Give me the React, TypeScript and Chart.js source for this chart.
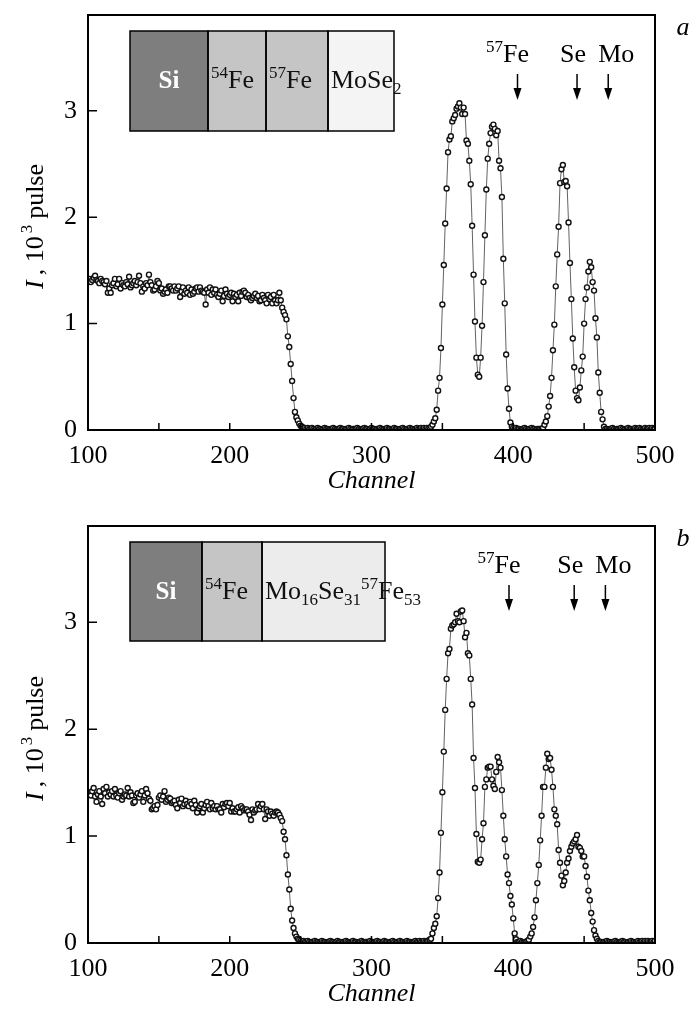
import React, { useEffect, useRef } from 'react';
import { Chart, registerables } from 'chart.js';

Chart.register(...registerables);

const SERIF = '"Liberation Serif", "Times New Roman", serif';

// ---------------- axes ----------------
const X_MIN = 100;
const X_MAX = 500;
const X_TICK_STEP = 50;
const X_LABEL_STEP = 100;
const Y_MIN = 0;
const Y_MAX = 3.9;
const Y_TICK_STEP = 1;

// ---------------- panel a data (one value per channel, 10^3 pulses) ----------------
const aPlateauStart = 100;
const aPlateau = [
  1.40, 1.42, 1.39, 1.41, 1.43, 1.45, 1.41, 1.40, 1.38, 1.42,
  1.40, 1.39, 1.37, 1.40, 1.29, 1.33, 1.29, 1.36, 1.38, 1.42,
  1.35, 1.37, 1.42, 1.33, 1.38, 1.36, 1.35, 1.39, 1.37, 1.44,
  1.34, 1.36, 1.38, 1.40, 1.36, 1.39, 1.45, 1.38, 1.30, 1.35,
  1.33, 1.38, 1.36, 1.46, 1.39, 1.36, 1.31, 1.32, 1.35, 1.40,
  1.38, 1.31, 1.33, 1.28, 1.30, 1.32, 1.29, 1.35, 1.35, 1.33,
  1.31, 1.35, 1.31, 1.33, 1.35, 1.25, 1.30, 1.34, 1.28, 1.31,
  1.29, 1.34, 1.27, 1.32, 1.28, 1.30, 1.33, 1.34, 1.30, 1.34,
  1.31, 1.30, 1.29, 1.18, 1.32, 1.29, 1.34, 1.27, 1.32, 1.29,
  1.32, 1.27, 1.25, 1.28, 1.31, 1.21, 1.26, 1.32, 1.28, 1.25,
  1.27, 1.29, 1.21, 1.28, 1.25, 1.27, 1.21, 1.29, 1.26, 1.30,
  1.31, 1.29, 1.25, 1.27, 1.24, 1.22, 1.24, 1.26, 1.28, 1.24,
  1.26, 1.21, 1.22, 1.27, 1.24, 1.22, 1.19, 1.27, 1.23, 1.25,
  1.19, 1.27, 1.22, 1.19, 1.22, 1.29,
];
const aEdgeStart = 236;
const aEdge = [1.22, 1.15, 1.11, 1.08, 1.04, 0.88, 0.78, 0.62, 0.46, 0.30, 0.17, 0.12, 0.09, 0.06, 0.04, 0.03, 0.02];
const aGapStart = 253;
const aGap = [
  0.02, 0.01, 0.02, 0.01, 0.01, 0.02, 0.01, 0.00, 0.01, 0.02,
  0.01, 0.01, 0.00, 0.01, 0.02, 0.01, 0.01, 0.00, 0.01, 0.01,
  0.02, 0.01, 0.00, 0.01, 0.01, 0.02, 0.01, 0.01, 0.00, 0.01,
  0.01, 0.02, 0.01, 0.00, 0.01, 0.01, 0.01, 0.02, 0.01, 0.00,
  0.01, 0.01, 0.02, 0.01, 0.01, 0.00, 0.01, 0.02, 0.01, 0.01,
  0.00, 0.01, 0.01, 0.02, 0.01, 0.00, 0.01, 0.01, 0.02, 0.01,
  0.01, 0.00, 0.01, 0.02, 0.01, 0.01, 0.00, 0.01, 0.01, 0.02,
  0.01, 0.00, 0.01, 0.01, 0.02, 0.01, 0.01, 0.00, 0.01, 0.02,
  0.01, 0.01, 0.02, 0.01, 0.02, 0.01, 0.02,
];
const aFeStart = 340;
const aFe = [
  0.01, 0.02, 0.03, 0.05, 0.08, 0.11, 0.19, 0.37, 0.49, 0.77,
  1.18, 1.55, 1.94, 2.27, 2.61, 2.73, 2.76, 2.90, 2.93, 2.96,
  3.02, 3.04, 3.07, 3.03, 2.97, 3.03, 2.97, 2.72, 2.69, 2.53,
  2.31, 1.92, 1.46, 1.02, 0.68, 0.52, 0.50, 0.68, 0.98, 1.39,
  1.83, 2.26, 2.55, 2.69, 2.79, 2.85, 2.87, 2.83, 2.77, 2.81,
  2.53, 2.46, 2.19, 1.61, 1.19, 0.71, 0.39, 0.20, 0.07, 0.03,
  0.02,
];
const aGap2Start = 401;
const aGap2 = [0.01, 0.02, 0.01, 0.01, 0.00, 0.01, 0.01, 0.02, 0.01, 0.00, 0.01, 0.01, 0.02, 0.01, 0.01, 0.00, 0.01, 0.01, 0.01, 0.01];
const aSeMoStart = 421;
const aSeMo = [
  0.02, 0.05, 0.08, 0.13, 0.22, 0.32, 0.49, 0.75, 0.99, 1.35,
  1.65, 1.91, 2.32, 2.45, 2.49, 2.33, 2.34, 2.29, 1.95, 1.57,
  1.23, 0.86, 0.59, 0.37, 0.30, 0.28, 0.40, 0.56, 0.69, 1.00,
  1.23, 1.34, 1.49, 1.58, 1.53, 1.39, 1.31, 1.05, 0.87, 0.54,
  0.35, 0.17, 0.10, 0.03, 0.01,
];
const aTailStart = 466;
const aTail = [
  0.01, 0.00, 0.01, 0.01, 0.02, 0.01, 0.00, 0.01, 0.01, 0.01,
  0.02, 0.01, 0.00, 0.01, 0.01, 0.02, 0.01, 0.01, 0.00, 0.01,
  0.02, 0.01, 0.01, 0.02, 0.01, 0.00, 0.01, 0.02, 0.01, 0.01,
  0.02, 0.01, 0.02, 0.01, 0.01,
];

// ---------------- panel b data ----------------
const bPlateauStart = 100;
const bPlateau = [
  1.41, 1.40, 1.38, 1.42, 1.45, 1.37, 1.32, 1.39, 1.42, 1.37,
  1.30, 1.44, 1.40, 1.46, 1.37, 1.41, 1.39, 1.42, 1.37, 1.44,
  1.38, 1.36, 1.40, 1.42, 1.34, 1.37, 1.39, 1.38, 1.45, 1.37,
  1.41, 1.38, 1.31, 1.32, 1.38, 1.40, 1.36, 1.39, 1.42, 1.32,
  1.38, 1.44, 1.40, 1.35, 1.33, 1.25, 1.26, 1.28, 1.25, 1.29,
  1.36, 1.38, 1.34, 1.37, 1.42, 1.32, 1.34, 1.36, 1.35, 1.31,
  1.32, 1.33, 1.29, 1.26, 1.34, 1.31, 1.35, 1.28, 1.30, 1.33,
  1.30, 1.28, 1.32, 1.30, 1.26, 1.33, 1.29, 1.22, 1.26, 1.28,
  1.30, 1.22, 1.26, 1.29, 1.32, 1.28, 1.25, 1.31, 1.26, 1.28,
  1.25, 1.28, 1.25, 1.25, 1.22, 1.30, 1.27, 1.30, 1.31, 1.28,
  1.31, 1.23, 1.26, 1.23, 1.23, 1.25, 1.27, 1.22, 1.28, 1.26,
  1.24, 1.25, 1.25, 1.23, 1.20, 1.15, 1.25, 1.22, 1.24, 1.25,
  1.30, 1.25, 1.28, 1.30, 1.25, 1.16, 1.25, 1.23, 1.19, 1.23,
  1.21, 1.19, 1.22, 1.23, 1.22, 1.20, 1.17,
];
const bEdgeStart = 237;
const bEdge = [1.14, 1.04, 0.97, 0.82, 0.64, 0.50, 0.32, 0.21, 0.14, 0.09, 0.06, 0.04, 0.03, 0.02, 0.01];
const bGapStart = 252;
const bGap = [
  0.02, 0.01, 0.01, 0.02, 0.01, 0.00, 0.01, 0.01, 0.02, 0.01,
  0.01, 0.00, 0.01, 0.02, 0.01, 0.01, 0.00, 0.01, 0.01, 0.02,
  0.01, 0.01, 0.00, 0.01, 0.02, 0.01, 0.01, 0.00, 0.01, 0.01,
  0.02, 0.01, 0.00, 0.01, 0.01, 0.02, 0.01, 0.01, 0.00, 0.01,
  0.01, 0.02, 0.01, 0.00, 0.01, 0.01, 0.01, 0.02, 0.01, 0.00,
  0.01, 0.01, 0.02, 0.01, 0.01, 0.00, 0.01, 0.02, 0.01, 0.01,
  0.00, 0.01, 0.01, 0.02, 0.01, 0.00, 0.01, 0.01, 0.02, 0.01,
  0.01, 0.00, 0.01, 0.02, 0.01, 0.01, 0.00, 0.01, 0.01, 0.02,
  0.01, 0.01, 0.02, 0.01, 0.01, 0.02, 0.01, 0.02, 0.02, 0.03,
];
const bFeStart = 342;
const bFe = [
  0.04, 0.09, 0.14, 0.18, 0.25, 0.42, 0.66, 1.03, 1.41, 1.79,
  2.18, 2.47, 2.71, 2.75, 2.94, 2.97, 2.98, 3.00, 3.08, 3.01,
  3.00, 3.10, 3.11, 3.01, 2.86, 2.90, 2.71, 2.69, 2.47, 2.23,
  1.73, 1.45, 1.02, 0.76, 0.75, 0.78, 0.97, 1.12, 1.46, 1.53,
  1.64, 1.65, 1.65, 1.53, 1.47, 1.44, 1.60, 1.74, 1.69, 1.64,
  1.43, 1.19, 0.97, 0.81, 0.64, 0.56, 0.44, 0.36, 0.23, 0.09,
  0.035, 0.01,
];
const bGap2Start = 404;
const bGap2 = [0.01, 0.02, 0.01, 0.00, 0.01, 0.01, 0.02];
const bSeMoStart = 411;
const bSeMo = [
  0.03, 0.06, 0.09, 0.15, 0.24, 0.40, 0.56, 0.73, 0.96, 1.19,
  1.46, 1.46, 1.64, 1.77, 1.72, 1.73, 1.62, 1.46, 1.25, 1.19,
  1.11, 0.87, 0.75, 0.63, 0.54, 0.58, 0.66, 0.75, 0.79, 0.86,
  0.90, 0.93, 0.95, 0.97, 1.01, 0.90, 0.89, 0.86, 0.81, 0.81,
  0.72, 0.62, 0.49, 0.40, 0.28, 0.20, 0.12, 0.07, 0.04, 0.02,
  0.01,
];
const bTailStart = 462;
const bTail = [
  0.01, 0.00, 0.01, 0.01, 0.02, 0.01, 0.01, 0.00, 0.01, 0.01,
  0.02, 0.01, 0.00, 0.01, 0.01, 0.02, 0.01, 0.01, 0.00, 0.01,
  0.01, 0.02, 0.01, 0.01, 0.00, 0.01, 0.02, 0.01, 0.01, 0.02,
  0.01, 0.02, 0.01, 0.02, 0.01, 0.01, 0.02, 0.01, 0.02,
];

// ---------------- markers ----------------
const arrowLabels = ['57Fe', 'Se', 'Mo'];
const arrowChannelsA = [403, 445, 467];
const arrowChannelsB = [397, 443, 465];
const layersA = ['Si', '54Fe', '57Fe', 'MoSe2'];
const layersB = ['Si', '54Fe', 'Mo16Se31 57Fe53'];

// ---------------- helpers ----------------
type Part = { t: string; size?: number; dy?: number; italic?: boolean; bold?: boolean; gap?: number };
const BASE = 26;
const sup = (t: string): Part => ({ t, size: 17, dy: -10 });
const sub = (t: string): Part => ({ t, size: 17, dy: 6 });

function fontOf(p: Part) {
  return `${p.italic ? 'italic ' : ''}${p.bold ? 'bold ' : ''}${p.size ?? BASE}px ${SERIF}`;
}
function richWidth(ctx: CanvasRenderingContext2D, parts: Part[]) {
  let w = 0;
  for (const p of parts) {
    ctx.font = fontOf(p);
    w += ctx.measureText(p.t).width + (p.gap ?? 0);
  }
  return w;
}
function drawRich(ctx: CanvasRenderingContext2D, x: number, y: number, parts: Part[], align: 'left' | 'center' = 'left') {
  const w = richWidth(ctx, parts);
  let cx = align === 'center' ? x - w / 2 : x;
  ctx.textAlign = 'left';
  ctx.textBaseline = 'alphabetic';
  for (const p of parts) {
    ctx.font = fontOf(p);
    ctx.fillText(p.t, cx, y + (p.dy ?? 0));
    cx += ctx.measureText(p.t).width + (p.gap ?? 0);
  }
}

const LABEL_PARTS: Record<string, Part[]> = {
  '57Fe': [sup('57'), { t: 'Fe' }],
  '54Fe': [sup('54'), { t: 'Fe' }],
  Se: [{ t: 'Se' }],
  Mo: [{ t: 'Mo' }],
  Si: [{ t: 'Si', bold: true, size: 25 }],
  MoSe2: [{ t: 'MoSe' }, sub('2')],
  'Mo16Se31 57Fe53': [{ t: 'Mo' }, sub('16'), { t: 'Se' }, sub('31'), sup('57'), { t: 'Fe' }, sub('53')],
};
const ARROW_LABEL_SHIFT: Record<string, number> = { '57Fe': -10, Se: -4, Mo: 8 };

function buildPoints(segs: [number, number[]][]) {
  const pts: { x: number; y: number }[] = [];
  segs.forEach(([start, vals]) => vals.forEach((v, i) => pts.push({ x: start + i, y: v })));
  return pts;
}

interface PanelCfg {
  top: number;
  height: number;
  padTop: number;
  xAxisH: number;
  letter: string;
  segs: [number, number[]][];
  arrowChannels: number[];
  layers: string[];
  layerWidths: number[];
  layerFills: string[];
  boxH: number;
}

const panelA: PanelCfg = {
  top: 0,
  height: 500,
  padTop: 15,
  xAxisH: 70,
  letter: 'a',
  segs: [
    [aPlateauStart, aPlateau], [aEdgeStart, aEdge], [aGapStart, aGap], [aFeStart, aFe],
    [aGap2Start, aGap2], [aSeMoStart, aSeMo], [aTailStart, aTail],
  ],
  arrowChannels: arrowChannelsA,
  layers: layersA,
  layerWidths: [78, 58, 62, 66],
  layerFills: ['#7e7e7e', '#c5c5c5', '#c5c5c5', '#f4f4f4'],
  boxH: 100,
};

const panelB: PanelCfg = {
  top: 511,
  height: 498,
  padTop: 15,
  xAxisH: 66,
  letter: 'b',
  segs: [
    [bPlateauStart, bPlateau], [bEdgeStart, bEdge], [bGapStart, bGap], [bFeStart, bFe],
    [bGap2Start, bGap2], [bSeMoStart, bSeMo], [bTailStart, bTail],
  ],
  arrowChannels: arrowChannelsB,
  layers: layersB,
  layerWidths: [72, 60, 123],
  layerFills: ['#7e7e7e', '#c5c5c5', '#ececec'],
  boxH: 99,
};

function makeDecor(cfg: PanelCfg) {
  return {
    id: 'decor',
    afterDatasetsDraw(chart: any) {
      const ctx: CanvasRenderingContext2D = chart.ctx;
      const { left, right, top, bottom } = chart.chartArea;
      const xs = chart.scales.x;
      const ys = chart.scales.y;
      ctx.save();
      ctx.strokeStyle = '#000';
      ctx.fillStyle = '#000';
      // frame
      ctx.lineWidth = 2;
      ctx.strokeRect(left, top, right - left, bottom - top);
      // inward ticks
      ctx.lineWidth = 1.5;
      ctx.beginPath();
      xs.ticks.forEach((t: any) => {
        const px = xs.getPixelForValue(t.value);
        ctx.moveTo(px, bottom);
        ctx.lineTo(px, bottom - 7);
      });
      ys.ticks.forEach((t: any) => {
        if (t.value <= Y_MIN) return;
        const py = ys.getPixelForValue(t.value);
        ctx.moveTo(left, py);
        ctx.lineTo(left + 9, py);
      });
      ctx.stroke();

      // layer stack inset
      let bx = left + 42;
      const by = top + 16;
      cfg.layers.forEach((name, i) => {
        const w = cfg.layerWidths[i];
        ctx.fillStyle = cfg.layerFills[i];
        ctx.fillRect(bx, by, w, cfg.boxH);
        bx += w;
      });
      ctx.lineWidth = 1.5;
      ctx.strokeStyle = '#000';
      bx = left + 42;
      cfg.layers.forEach((name, i) => {
        const w = cfg.layerWidths[i];
        ctx.strokeRect(bx, by, w, cfg.boxH);
        bx += w;
      });
      bx = left + 42;
      const baseY = by + cfg.boxH / 2 + 7;
      cfg.layers.forEach((name, i) => {
        const w = cfg.layerWidths[i];
        const parts = LABEL_PARTS[name];
        if (name === 'Si') {
          ctx.fillStyle = '#fff';
          drawRich(ctx, bx + w / 2, baseY, parts, 'center');
        } else {
          ctx.fillStyle = '#111';
          drawRich(ctx, bx + 3, baseY, parts, 'left');
        }
        bx += w;
      });

      // element arrows
      ctx.fillStyle = '#000';
      ctx.strokeStyle = '#000';
      cfg.arrowChannels.forEach((ch, i) => {
        const px = xs.getPixelForValue(ch);
        const name = arrowLabels[i];
        drawRich(ctx, px + (ARROW_LABEL_SHIFT[name] ?? 0), top + 47, LABEL_PARTS[name], 'center');
        ctx.lineWidth = 1.5;
        ctx.beginPath();
        ctx.moveTo(px, top + 59);
        ctx.lineTo(px, top + 76);
        ctx.stroke();
        ctx.beginPath();
        ctx.moveTo(px - 4, top + 73);
        ctx.lineTo(px + 4, top + 73);
        ctx.lineTo(px, top + 85);
        ctx.closePath();
        ctx.fill();
      });

      // panel letter
      drawRich(ctx, 683, top + 20, [{ t: cfg.letter, italic: true }], 'center');

      // x title
      drawRich(ctx, (left + right) / 2, bottom + 58, [{ t: 'Channel', italic: true }], 'center');

      // y title (rotated)
      ctx.save();
      ctx.translate(43, (top + bottom) / 2 + 4);
      ctx.rotate(-Math.PI / 2);
      drawRich(
        ctx,
        0,
        0,
        [
          { t: 'I', italic: true, gap: 5 },
          { t: ', 10', gap: 3 },
          { t: '3', size: 17, dy: -11, gap: 6 },
          { t: 'pulse' },
        ],
        'center',
      );
      ctx.restore();

      ctx.restore();
    },
  };
}

function makeConfig(cfg: PanelCfg): any {
  const tickFont = { family: SERIF, size: BASE };
  return {
    type: 'line',
    data: {
      datasets: [
        {
          data: buildPoints(cfg.segs),
          borderColor: '#3a3a3a',
          borderWidth: 0.8,
          pointRadius: 2.5,
          pointBorderWidth: 1.4,
          pointBorderColor: '#111',
          pointBackgroundColor: '#fff',
          tension: 0,
        },
      ],
    },
    options: {
      animation: false,
      responsive: false,
      events: [],
      layout: { padding: { top: cfg.padTop, right: 40, left: 0, bottom: 0 } },
      plugins: { legend: { display: false }, tooltip: { enabled: false }, title: { display: false } },
      scales: {
        x: {
          type: 'linear',
          min: X_MIN,
          max: X_MAX,
          grid: { display: false },
          border: { display: false },
          ticks: {
            stepSize: X_TICK_STEP,
            autoSkip: false,
            maxRotation: 0,
            color: '#000',
            font: tickFont,
            padding: 3,
            callback: (v: number) => (v % X_LABEL_STEP === 0 ? String(v) : ''),
          },
          afterFit: (s: any) => {
            s.height = cfg.xAxisH;
          },
        },
        y: {
          type: 'linear',
          min: Y_MIN,
          max: Y_MAX,
          grid: { display: false },
          border: { display: false },
          ticks: {
            stepSize: Y_TICK_STEP,
            includeBounds: false,
            color: '#000',
            font: { family: SERIF, size: BASE, lineHeight: 0.8 },
            padding: 3,
          },
          afterFit: (s: any) => {
            s.width = 88;
            s.paddingTop = 0;
            s.paddingBottom = 0;
          },
        },
      },
    },
    plugins: [makeDecor(cfg)],
  };
}

function Panel({ cfg }: { cfg: PanelCfg }) {
  const ref = useRef<HTMLCanvasElement>(null);
  useEffect(() => {
    const chart = new Chart(ref.current as HTMLCanvasElement, makeConfig(cfg));
    return () => chart.destroy();
  }, [cfg]);
  return (
    <canvas
      ref={ref}
      width={695}
      height={cfg.height}
      style={{ position: 'absolute', left: 0, top: cfg.top, width: 695, height: cfg.height }}
    />
  );
}

export default function App() {
  return (
    <div style={{ position: 'absolute', left: 0, top: 0, width: 695, height: 1009, background: '#fff', overflow: 'hidden' }}>
      <Panel cfg={panelA} />
      <Panel cfg={panelB} />
    </div>
  );
}
